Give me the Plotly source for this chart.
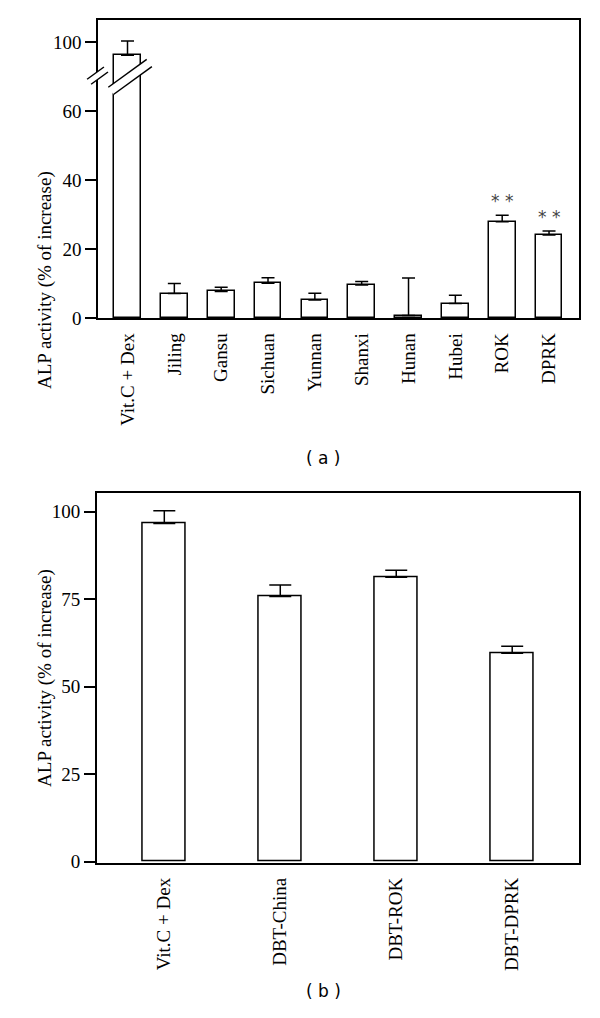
import plotly.graph_objects as go

# ---------------- data ----------------
cats_a = ["Vit.C + Dex", "Jiling", "Gansu", "Sichuan", "Yunnan", "Shanxi",
          "Hunan", "Hubei", "ROK", "DPRK"]
vals_a = [96.2, 7.1, 7.7, 10.1, 5.2, 9.6, 0.7, 4.2, 27.9, 24.1]
errs_a = [4.1, 2.9, 1.2, 1.6, 2.0, 1.0, 10.9, 2.4, 1.9, 1.1]
sig_a = ["", "", "", "", "", "", "", "", "**", "**"]
yticks_a = [0, 20, 40, 60, 100]

cats_b = ["Vit.C + Dex", "DBT-China", "DBT-ROK", "DBT-DPRK"]
vals_b = [96.7, 75.8, 81.3, 59.6]
errs_b = [3.6, 3.3, 2.0, 2.0]
yticks_b = [0, 25, 50, 75, 100]

# broken axis for panel (a): values above the break are shifted down by GAP
BREAK_AT = 70
GAP = 20


def disp(v):
    return v - GAP if v > BREAK_AT else v


# ---------------- layout constants ----------------
OFF = 8                      # page body margin
W, H = 600 - OFF, 1018 - OFF
SERIF = "Liberation Serif"


def fx(px):
    return (px - OFF) / W


def fy(py):
    return 1 - (py - OFF) / H


XA_DOM = [fx(98), fx(579)]
YA_DOM = [fy(318), fy(20)]
XA_RNG = [-0.63, 9.64]
YA_RNG = [0, 86.4]
XB_DOM = [fx(96.7), fx(579)]
YB_DOM = [fy(862.5), fy(493.3)]
XB_RNG = [-0.583, 3.576]
YB_RNG = [-0.23, 105.3]

fig = go.Figure()

xa = list(range(len(cats_a)))
fig.add_trace(go.Bar(
    x=xa, y=[disp(v) for v in vals_a], width=0.57,
    marker=dict(color="white", line=dict(color="black", width=1.5)),
    error_y=dict(type="data", symmetric=False, array=errs_a,
                 arrayminus=[0] * len(errs_a), color="black",
                 thickness=1.5, width=6.5),
    xaxis="x", yaxis="y", showlegend=False))

xb = list(range(len(cats_b)))
fig.add_trace(go.Bar(
    x=xb, y=vals_b, width=0.376,
    marker=dict(color="white", line=dict(color="black", width=1.5)),
    error_y=dict(type="data", symmetric=False, array=errs_b,
                 arrayminus=[0] * len(errs_b), color="black",
                 thickness=1.5, width=11),
    xaxis="x2", yaxis="y2", showlegend=False))

axis_common = dict(showline=True, linecolor="black", linewidth=1.5,
                   mirror=True, showgrid=False, zeroline=False,
                   automargin=False)
tickfont = dict(family=SERIF, size=19, color="black")

fig.update_layout(
    width=W, height=H, template="none",
    paper_bgcolor="white", plot_bgcolor="white",
    margin=dict(l=0, r=0, t=0, b=0),
    bargap=0,
    xaxis=dict(domain=XA_DOM, range=XA_RNG, tickmode="array", tickvals=xa,
               ticktext=cats_a, tickangle=-90, ticks="",
               ticklabelstandoff=6, tickfont=tickfont,
               anchor="y", **axis_common),
    yaxis=dict(domain=YA_DOM, range=YA_RNG, tickmode="array",
               tickvals=[disp(t) for t in yticks_a],
               ticktext=[str(t) for t in yticks_a],
               ticks="outside", ticklen=11, tickwidth=1.5, tickcolor="black",
               tickfont=tickfont, anchor="x", **axis_common),
    xaxis2=dict(domain=XB_DOM, range=XB_RNG, tickmode="array", tickvals=xb,
                ticktext=cats_b, tickangle=-90, ticks="",
                ticklabelstandoff=6, tickfont=tickfont,
                anchor="y2", **axis_common),
    yaxis2=dict(domain=YB_DOM, range=YB_RNG, tickmode="array",
                tickvals=yticks_b, ticktext=[str(t) for t in yticks_b],
                ticks="outside", ticklen=11, tickwidth=1.5, tickcolor="black",
                tickfont=tickfont, anchor="x2", **axis_common),
)

annotations = []
# significance stars
for i, (v, e, s) in enumerate(zip(vals_a, errs_a, sig_a)):
    if s:
        annotations.append(dict(
            x=i, y=disp(v + e), xref="x", yref="y", text=" ".join(s),
            showarrow=False, yanchor="bottom", yshift=2,
            font=dict(family="DejaVu Sans", size=17, color="#444444")))

# y-axis titles
for yc in [(YA_DOM[0] + YA_DOM[1]) / 2, (YB_DOM[0] + YB_DOM[1]) / 2]:
    annotations.append(dict(
        x=fx(32), y=yc, xref="paper", yref="paper", textangle=-90,
        text="ALP activity (% of increase)", showarrow=False,
        font=dict(family=SERIF, size=19, color="black")))

# panel captions
annotations.append(dict(x=fx(323), y=fy(458), xref="paper", yref="paper",
                        text="( a )", showarrow=False,
                        font=dict(family="DejaVu Sans", size=17, color="black")))
annotations.append(dict(x=fx(323), y=fy(1003), xref="paper", yref="paper",
                        text="( b )", showarrow=False,
                        font=dict(family="DejaVu Sans", size=17, color="black")))
fig.update_layout(annotations=annotations)


# ---------------- axis-break decorations (panel a) ----------------
def to_paper(xd, yd):
    px = XA_DOM[0] + (xd - XA_RNG[0]) / (XA_RNG[1] - XA_RNG[0]) * (XA_DOM[1] - XA_DOM[0])
    py = YA_DOM[0] + (yd - YA_RNG[0]) / (YA_RNG[1] - YA_RNG[0]) * (YA_DOM[1] - YA_DOM[0])
    return px, py


def brk(xc, yc, half_w, sep_x, sep_y, slope):
    """Two parallel slanted lines around (xc, yc), returned in paper coords."""
    a1 = (xc - half_w, yc - slope * half_w)
    a2 = (xc + half_w, yc + slope * half_w)
    b1 = (a1[0] + sep_x, a1[1] - sep_y)
    b2 = (a2[0] + sep_x, a2[1] - sep_y)
    return [to_paper(*p) for p in (a1, a2, b2, b1)]


shapes = []
slope = 8.1 / 0.82
for (xc, yc, hw, sx, sy) in [(0.0, 70.95, 0.41, 0.11, 2.1),
                              (-0.683, 71.0, 0.18, 0.086, 1.45)]:
    p = brk(xc, yc, hw, sx, sy, slope)
    path = "M {} {} L {} {} L {} {} L {} {} Z".format(
        p[0][0], p[0][1], p[1][0], p[1][1], p[2][0], p[2][1], p[3][0], p[3][1])
    shapes.append(dict(type="path", path=path, xref="paper", yref="paper",
                       fillcolor="white", line=dict(width=0), layer="above"))
    for q1, q2 in [(p[0], p[1]), (p[3], p[2])]:
        shapes.append(dict(type="line", xref="paper", yref="paper",
                           x0=q1[0], y0=q1[1], x1=q2[0], y1=q2[1],
                           line=dict(color="black", width=1.5), layer="above"))
fig.update_layout(shapes=shapes)

fig.write_html("out.html")
